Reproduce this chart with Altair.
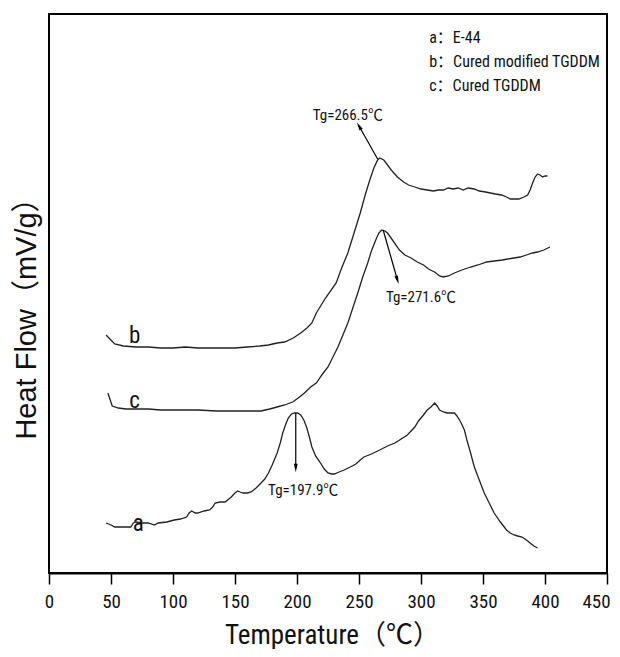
import altair as alt
import pandas as pd

# ---------------- data ----------------
temp_a = [46, 50, 53, 60, 66, 68, 70, 75, 80, 85, 88, 95, 101, 106, 111, 113, 115, 118, 120, 125,
          129.5, 132, 134, 138, 142, 147, 150, 152, 154, 156.6, 160, 163, 167, 171, 174, 177, 180,
          184, 186.5, 188.5, 191, 193, 195.5, 198, 200.5, 203, 205.5, 207.7, 210, 212, 215, 219,
          222, 225, 228, 230, 234, 238, 243, 247.5, 251, 254, 260, 266.7, 273, 279, 284, 289, 292,
          295, 298, 302, 305, 308, 311, 313, 315, 318, 321, 324, 327, 329, 332, 335, 337, 340, 343,
          347, 351, 355, 359, 364, 369, 372, 375, 378, 381.5, 385, 388, 391, 394]
hf_a = [50, 48, 46, 46, 46, 50, 51, 50, 50, 48, 50, 51, 53, 54, 56, 60, 62, 60, 60, 62,
        63, 66, 70, 71, 71, 76, 80, 82, 81, 80, 80, 81, 85, 90, 94, 100, 108,
        120, 130, 140, 149, 155, 159, 160, 160, 158, 153, 146, 136, 126, 117, 110,
        104, 100, 99, 99, 101, 103, 106, 109, 113, 116, 119, 123, 127, 130, 134, 138, 142,
        146, 152, 158, 163, 166, 170, 167, 163, 161, 160, 160, 160, 157, 151, 143, 133, 120, 106,
        93, 80, 70, 60, 51, 43, 40, 38, 37, 36, 33, 30, 27, 25]

temp_b = [46, 53, 60, 70, 80, 90, 100, 110, 120, 130, 140, 150, 160, 170, 177, 184, 190, 197,
          203, 208, 212, 215.6, 223, 231.6, 236, 241, 246, 251, 255, 258.7, 262, 265, 266.7, 270,
          276, 281, 286, 290, 295, 300, 305, 310, 314, 318, 322, 326, 330, 334, 338, 343, 347,
          352, 356, 360, 365, 369, 372, 376, 379, 383, 386, 388, 390, 392, 394, 396, 398, 400, 402]
hf_b = [238, 229, 227, 226, 226, 225, 225, 226, 225, 225, 225, 225, 226, 227, 228, 230, 231, 235,
        240, 245, 250, 260, 275, 290, 305, 320, 340, 360, 378, 393, 405, 413, 415, 413,
        403, 396, 391, 388, 386, 384, 383, 382, 383, 383, 385, 384, 385, 383, 385, 384, 382,
        381, 380, 379, 378, 376, 374, 374, 374, 376, 378, 383, 390, 396, 399, 398, 396, 397, 397]

temp_c = [47.5, 51, 56, 62, 69, 80, 90, 104, 120, 135, 152, 162, 171, 178, 184, 190, 196.5, 201,
          206, 211, 215.6, 220, 225, 229, 233, 237, 241, 245, 249, 253, 257, 260, 263.5, 266,
          268.3, 271, 273, 277, 282.6, 287, 292, 297, 302, 306, 311, 315, 318, 322, 327, 333, 340,
          346, 353, 359, 365.6, 370, 375, 380, 385, 390, 394, 399, 404]
hf_c = [180, 167, 165, 164, 164, 164, 163, 163, 163, 162, 162, 162, 162, 164, 166, 168, 171, 175,
        180, 186, 190, 198, 206, 216, 226, 238, 250, 265, 280, 296, 310, 322, 333, 340,
        343, 342, 340, 333, 323, 318, 315, 311, 308, 304, 301, 297, 296, 297, 300, 303, 306,
        308, 311, 312, 313, 314, 315, 316, 318, 320, 321, 323, 326]

curve_names = ["a", "b", "c"]
curve_label_t = [72, 69, 69]
curve_label_hf = [42, 230, 165]

legend_lines = ["a：E-44", "b：Cured modified TGDDM", "c：Cured TGDDM"]
legend_t = [306.6, 306.6, 306.6]
legend_hf = [530, 506, 482]

tg_texts = ["Tg=266.5℃", "Tg=271.6℃", "Tg=197.9℃"]
tg_text_t = [241, 300, 205]
tg_text_hf = [453, 271, 78]
arrow_t0 = [265, 269.5, 199]
arrow_hf0 = [414, 343, 160]
arrow_t1 = [250, 281, 199]
arrow_hf1 = [447, 293, 105]
arrow_angle = [330, 162, 180]

x_ticks = list(range(0, 451, 25))

# ---------------- build tables ----------------
rows = []
for name, ts, hs in [("a", temp_a, hf_a), ("b", temp_b, hf_b), ("c", temp_c, hf_c)]:
    for i, (t, h) in enumerate(zip(ts, hs)):
        rows.append({"series": name, "T": t, "H": h, "idx": i})
curves = pd.DataFrame(rows)

curve_lbl = pd.DataFrame({"name": curve_names, "T": curve_label_t, "H": curve_label_hf})
legend_df = pd.DataFrame({"txt": legend_lines, "T": legend_t, "H": legend_hf})
tg_df = pd.DataFrame({"txt": tg_texts, "T": tg_text_t, "H": tg_text_hf})
arrows = pd.DataFrame({"T0": arrow_t0, "H0": arrow_hf0, "T1": arrow_t1, "H1": arrow_hf1,
                       "ang": arrow_angle})

NARROW = "Liberation Sans Narrow, Arial Narrow, Roboto Condensed, Liberation Sans, Noto Sans CJK SC, sans-serif"
WIDE = "Liberation Sans, Arial, Noto Sans CJK SC, sans-serif"

xscale = alt.Scale(domain=[0, 450], nice=False, zero=False)
yscale = alt.Scale(domain=[0, 559], nice=False, zero=False)

x_axis = alt.Axis(
    title="Temperature（℃）",
    values=x_ticks,
    labelExpr="datum.value % 50 === 0 ? datum.label : ''",
    tickSize={"condition": {"test": "datum.value % 50 === 0", "value": 11}, "value": 6},
    labelOffset={"condition": {"test": "datum.value === 450", "value": -11}, "value": 0},
    tickColor="black", tickWidth=1.5,
    domainColor="black", domainWidth=2,
    labelFont=NARROW, labelFontSize=19, labelColor="#111", labelPadding=8,
    labelFlush=False, grid=False,
    titleFont=NARROW, titleFontSize=27, titleFontWeight="normal", titleColor="#111",
    titleX=283, titleY=70, titleAlign="center", titleBaseline="alphabetic",
)
y_axis = alt.Axis(
    title="Heat Flow（mV/g）",
    labels=False, ticks=False, domain=False, grid=False,
    titleFont=WIDE, titleFontSize=29, titleFontWeight="normal", titleColor="#111",
    titleAngle=270, titleAlign="center", titleBaseline="alphabetic",
    titleX=-14, titleY=297,
)

lines = alt.Chart(curves).mark_line(color="#222", strokeWidth=1.3).encode(
    x=alt.X("T:Q", scale=xscale, axis=x_axis),
    y=alt.Y("H:Q", scale=yscale, axis=y_axis),
    detail="series:N",
    order="idx:Q",
)

lbls = alt.Chart(curve_lbl).mark_text(font=NARROW, fontSize=23, color="#111",
                                      align="center", baseline="alphabetic").encode(
    x=alt.X("T:Q", scale=xscale), y=alt.Y("H:Q", scale=yscale), text="name:N")

legend_txt = alt.Chart(legend_df).mark_text(font=NARROW, fontSize=16, color="#111",
                                            align="left", baseline="alphabetic").encode(
    x=alt.X("T:Q", scale=xscale), y=alt.Y("H:Q", scale=yscale), text="txt:N")

tg_txt = alt.Chart(tg_df).mark_text(font=NARROW, fontSize=15, color="#111",
                                    align="center", baseline="alphabetic").encode(
    x=alt.X("T:Q", scale=xscale), y=alt.Y("H:Q", scale=yscale), text="txt:N")

arrow_lines = alt.Chart(arrows).mark_rule(color="black", strokeWidth=1.2).encode(
    x=alt.X("T0:Q", scale=xscale), y=alt.Y("H0:Q", scale=yscale),
    x2="T1:Q", y2="H1:Q")

arrow_heads = alt.Chart(arrows).mark_point(
    shape="M0,-1L0.45,1L-0.45,1Z", filled=True, color="black", size=70, opacity=1
).encode(
    x=alt.X("T1:Q", scale=xscale), y=alt.Y("H1:Q", scale=yscale),
    angle=alt.Angle("ang:Q", scale=None))

chart = alt.layer(lines, lbls, legend_txt, tg_txt, arrow_lines, arrow_heads).properties(
    width=558, height=559,
    autosize=alt.AutoSizeParams(type="none"),
    padding={"left": 41, "top": 6, "right": 5, "bottom": 76},
    background="white",
).configure_view(stroke="black", strokeWidth=2)

chart.save("out.html", embed_options={"renderer": "svg", "actions": False})
